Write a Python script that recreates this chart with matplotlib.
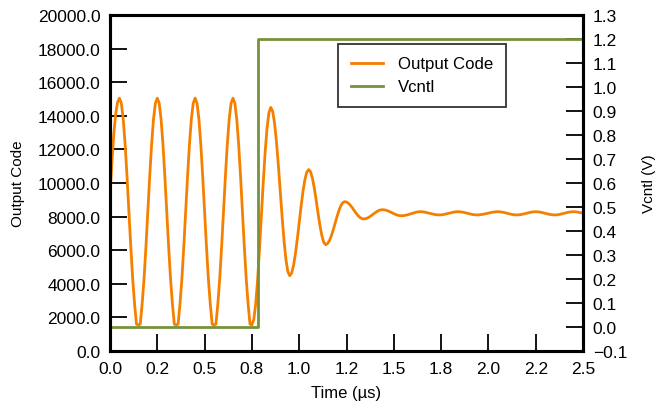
import numpy as np
import matplotlib
matplotlib.use("Agg")
import matplotlib.pyplot as plt
from matplotlib.ticker import FormatStrFormatter, FuncFormatter, MultipleLocator

plt.rcParams['font.family'] = ['Liberation Sans', 'DejaVu Sans']

# Output code, sampled every 0.01 us (read off the picture)
# free oscillation before the control step (0.00 - 0.75 us)
code_pre = [9200, 11200, 12900, 14100, 14800,
            15050, 14750, 13800, 12300, 10400, 8300, 6200, 4300, 2800, 1600,
            1550, 1600, 2800, 4300, 6200, 8300, 10400, 12300, 13800, 14750,
            15050, 14750, 13800, 12300, 10400, 8300, 6200, 4300, 2800, 1600,
            1550, 1600, 2800, 4300, 6200, 8300, 10400, 12300, 13800, 14750,
            15050, 14750, 13800, 12300, 10400, 8300, 6200, 4300, 2800, 1600,
            1550, 1600, 2800, 4300, 6200, 8300, 10400, 12300, 13800, 14750,
            15050, 14750, 13800, 12300, 10400, 8300, 6200, 4300, 2800, 1600,
            1550]
# damped ringing after the step (0.76 - 1.64 us)
code_ring = [1867, 2787, 4219, 6024, 8025, 10026, 11831, 13263, 14183, 14500,
             14255, 13543, 12435, 11038, 9490, 7942, 6545, 5437, 4726, 4480,
             4635, 5084, 5783, 6664, 7640, 8616, 9497, 10196, 10645, 10800,
             10665, 10277, 9682, 8954, 8176, 7447, 6853, 6464, 6330,
             6393, 6574, 6858, 7214, 7610, 8006, 8362, 8646, 8827, 8890,
             8865, 8792, 8678, 8534, 8375, 8216, 8072, 7958, 7885, 7860,
             7873, 7913, 7973, 8050, 8135, 8220, 8297, 8357, 8397, 8410,
             8401, 8376, 8336, 8286, 8230, 8174, 8124, 8084, 8059, 8050,
             8056, 8073, 8099, 8133, 8170, 8207, 8241, 8267, 8284, 8290]
# small residual ripple (1.65 - 2.50 us)
code_tail = [8285, 8272, 8251, 8224, 8195, 8166, 8139, 8118, 8105, 8100,
             8105, 8118, 8139, 8166, 8195, 8224, 8251, 8272, 8285, 8290,
             8285, 8272, 8251, 8224, 8195, 8166, 8139, 8118, 8105, 8100,
             8104, 8115, 8133, 8157, 8183, 8207, 8233, 8257, 8275, 8286, 8290,
             8285, 8272, 8251, 8224, 8195, 8166, 8139, 8118, 8105, 8100,
             8105, 8118, 8139, 8166, 8195, 8224, 8251, 8272, 8285, 8290,
             8285, 8272, 8251, 8224, 8195, 8166, 8139, 8118, 8105, 8100,
             8105, 8118, 8139, 8166, 8195, 8224, 8251, 8272, 8285, 8290,
             8285, 8272, 8251, 8224, 8195]

code = np.array(code_pre + code_ring + code_tail)
t_code = np.linspace(0.0, 2.5, len(code))

# Vcntl step
t_vcntl = [0.0, 0.78, 0.78, 2.5]
vcntl = [0.0, 0.0, 1.2, 1.2]

orange = '#F58000'
green = '#76923C'

fig = plt.figure(figsize=(6.57, 4.06), dpi=100)
ax = fig.add_axes([0.1674, 0.133, 0.72, 0.8276])
ax2 = ax.twinx()

l1, = ax.plot(t_code, code, color=orange, lw=2.0, label="Output Code")
l2, = ax2.plot(t_vcntl, vcntl, color=green, lw=2.0, label="Vcntl")

ax.set_xlim(0, 2.5)
ax.set_ylim(0, 20000)
ax2.set_ylim(-0.1, 1.3)

ax.xaxis.set_major_locator(MultipleLocator(0.25))
ax.xaxis.set_major_formatter(FormatStrFormatter('%.1f'))
ax.yaxis.set_major_locator(MultipleLocator(2000))
ax.yaxis.set_major_formatter(FormatStrFormatter('%.1f'))
ax2.yaxis.set_major_locator(MultipleLocator(0.1))
# real minus sign on the right axis
ax2.yaxis.set_major_formatter(FuncFormatter(lambda v, p: ('%.1f' % v).replace('-', '\u2212')))

for a in (ax, ax2):
    a.tick_params(direction='in', length=12, width=1.3, labelsize=12.5, pad=7)
    for s in a.spines.values():
        s.set_linewidth(2.2)

ax.set_xlabel("Time (µs)", fontsize=12, labelpad=7)
ax.set_ylabel("Output Code", fontsize=11, labelpad=9)
ax2.set_ylabel("Vcntl (V)", fontsize=11, labelpad=11)

leg = ax2.legend([l1, l2], ["Output Code", "Vcntl"], loc='upper left',
                 bbox_to_anchor=(0.482, 0.914), fontsize=12.1, frameon=True,
                 fancybox=False, handlelength=1.9, handletextpad=0.9,
                 borderpad=0.75, labelspacing=0.47, borderaxespad=0)
leg.get_frame().set_edgecolor('black')
leg.get_frame().set_linewidth(1.3)

plt.savefig("out.png", dpi=100)
